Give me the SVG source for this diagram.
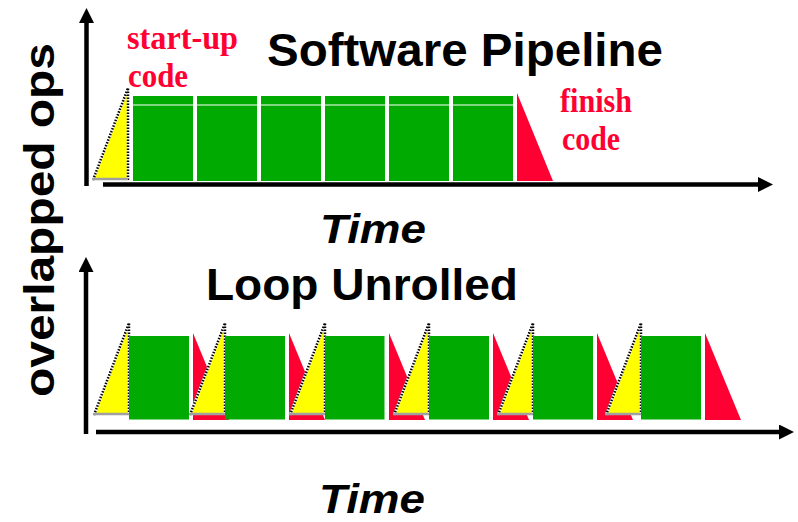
<svg xmlns="http://www.w3.org/2000/svg" width="798" height="522" viewBox="0 0 798 522">
<style>
.title{font-family:"Liberation Sans",Arial,sans-serif;font-weight:bold;fill:#000}
.red{font-family:"Liberation Serif","Times New Roman",serif;font-weight:bold;font-size:33px;fill:#FF0033}
.time{font-family:"Liberation Sans",Arial,sans-serif;font-weight:bold;font-style:italic;font-size:41px;fill:#000}
.green{fill:#00AA00}
.fin{fill:#FF0033}
.yel{fill:#FFFF00}
.edgew{fill:none;stroke:#FFFFFF;stroke-width:2.5}
.edgek{fill:none;stroke:#000;stroke-width:2.5;stroke-dasharray:1.5 1.5}
.base{stroke:#A0A0A0;stroke-width:2.5}
.axis{stroke:#000;stroke-width:4.5;fill:none}
</style>
<defs>
<marker id="arr" markerUnits="userSpaceOnUse" markerWidth="15" markerHeight="15" viewBox="0 0 15 15" refX="0" refY="7.5" orient="auto">
<path d="M0,0 L15,7.5 L0,15 z" fill="#000"/>
</marker>
<g id="startup">
<polygon class="yel" points="-35,0 0,0 0,-92"/>
<polyline class="edgew" points="-35,0 0,-92 0,0"/>
<polyline class="edgek" points="-35,0 0,-92 0,0"/>
<line class="base" x1="-36" y1="-1" x2="0" y2="-1"/>
</g>
</defs>

<g id="connectors">
<line class="axis" x1="86.5" y1="186" x2="86.5" y2="23" marker-end="url(#arr)"/>
<line class="axis" x1="103" y1="184.5" x2="758" y2="184.5" marker-end="url(#arr)"/>
<line class="axis" x1="86" y1="434" x2="86" y2="272" marker-end="url(#arr)"/>
<line class="axis" x1="96" y1="432" x2="779" y2="432" marker-end="url(#arr)"/>
</g>

<g id="y-label">
<text class="title" font-size="43" transform="translate(54,397) rotate(-90)" textLength="354" lengthAdjust="spacingAndGlyphs">overlapped ops</text>
</g>

<g id="software-pipeline">
<text class="title" x="267" y="66" font-size="47" textLength="396" lengthAdjust="spacingAndGlyphs">Software Pipeline</text>
<g id="sp-startup"><use href="#startup" x="128" y="180"/></g>
<g id="sp-blocks">
<rect class="green" x="133" y="96" width="60" height="85"/>
<rect class="green" x="197" y="96" width="60" height="85"/>
<rect class="green" x="261" y="96" width="60" height="85"/>
<rect class="green" x="325" y="96" width="60" height="85"/>
<rect class="green" x="389" y="96" width="60" height="85"/>
<rect class="green" x="453" y="96" width="60" height="85"/>
<line x1="133" y1="105" x2="513" y2="105" stroke="#FFFFFF" stroke-width="1.2"/>
<rect x="193" y="96" width="4" height="85" fill="#FFFFFF"/>
<rect x="257" y="96" width="4" height="85" fill="#FFFFFF"/>
<rect x="321" y="96" width="4" height="85" fill="#FFFFFF"/>
<rect x="385" y="96" width="4" height="85" fill="#FFFFFF"/>
<rect x="449" y="96" width="4" height="85" fill="#FFFFFF"/>
</g>
<g id="sp-finish"><polygon class="fin" points="517,93 517,181 553,181"/></g>
<text class="red" x="127" y="49" textLength="111" lengthAdjust="spacingAndGlyphs">start-up</text>
<text class="red" x="128" y="87" textLength="60" lengthAdjust="spacingAndGlyphs">code</text>
<text class="red" x="560" y="112" textLength="72" lengthAdjust="spacingAndGlyphs">finish</text>
<text class="red" x="562" y="150" textLength="58" lengthAdjust="spacingAndGlyphs">code</text>
<text class="time" x="320" y="243" textLength="106" lengthAdjust="spacingAndGlyphs">Time</text>
</g>

<g id="loop-unrolled">
<text class="title" x="206" y="300" font-size="45" textLength="312" lengthAdjust="spacingAndGlyphs">Loop Unrolled</text>
<g id="lu-1">
<use href="#startup" x="129" y="415"/>
<rect class="green" x="129" y="336" width="60" height="83.5"/>
</g>
<g id="lu-2">
<polygon class="fin" points="193,333 193,420 229,420"/>
<use href="#startup" x="225" y="415"/>
<rect class="green" x="225" y="336" width="60" height="83.5"/>
</g>
<g id="lu-3">
<polygon class="fin" points="289,333 289,420 325,420"/>
<use href="#startup" x="325" y="415"/>
<rect class="green" x="325" y="336" width="59.5" height="83.5"/>
</g>
<g id="lu-4">
<polygon class="fin" points="389,333 389,420 425,420"/>
<use href="#startup" x="429" y="415"/>
<rect class="green" x="429" y="336" width="60" height="83.5"/>
</g>
<g id="lu-5">
<polygon class="fin" points="493,333 493,420 529,420"/>
<use href="#startup" x="533" y="415"/>
<rect class="green" x="533" y="336" width="60" height="83.5"/>
</g>
<g id="lu-6">
<polygon class="fin" points="597,333 597,420 633,420"/>
<use href="#startup" x="641" y="415"/>
<rect class="green" x="641" y="336" width="60" height="83.5"/>
</g>
<g id="lu-finish"><polygon class="fin" points="705,333 705,420 741,420"/></g>
<text class="time" x="319" y="513" textLength="106" lengthAdjust="spacingAndGlyphs">Time</text>
</g>
</svg>
